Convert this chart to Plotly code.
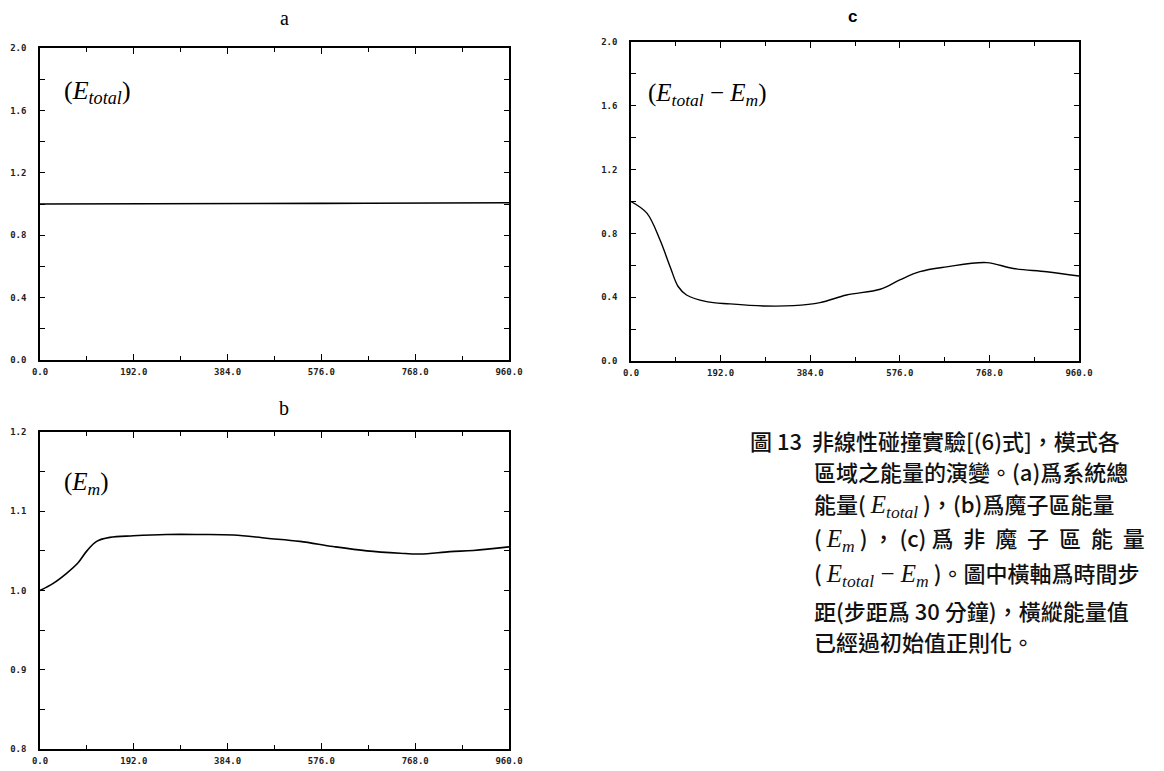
import plotly.graph_objects as go

W, H = 1164, 771

# ---------------- data ----------------
# panel a: total energy (normalised)
a_step = [0, 96, 192, 288, 384, 480, 576, 672, 768, 864, 960]
a_energy = [1.0, 1.0, 1.0, 1.001, 1.002, 1.003, 1.004, 1.005, 1.006, 1.007, 1.008]

# panel b: E_m
b_step = [0, 27, 55, 78, 96, 116, 143, 191, 259, 328, 396, 464, 532, 600, 669, 737, 778, 839, 887, 960]
b_energy = [1.0, 1.009, 1.022, 1.035, 1.050, 1.062, 1.067, 1.069, 1.0707, 1.0707, 1.070,
            1.066, 1.062, 1.0555, 1.050, 1.047, 1.046, 1.049, 1.0505, 1.055]

# panel c: E_total - E_m
c_step = [0, 34, 62, 84, 101, 119, 162, 212, 284, 348, 405, 462, 534, 576, 619, 676, 762, 819, 891, 960]
c_energy = [1.0, 0.927, 0.76, 0.59, 0.467, 0.414, 0.372, 0.358, 0.345, 0.347, 0.366,
            0.414, 0.45, 0.508, 0.56, 0.59, 0.617, 0.58, 0.56, 0.533]

x_ticks = [0, 192, 384, 576, 768, 960]

SERIF = '<span style="font-family:Liberation Serif;font-size:25px">'
caption_lines = [
    "圖 13  非線性碰撞實驗[(6)式]，模式各",
    "區域之能量的演變。(a)爲系統總",
    "能量( " + SERIF + "<i>E<sub>total</sub></i></span> )，(b)爲魔子區能量",
    "( " + SERIF + "<i>E<sub>m</sub></i></span> ) ， (c) 爲  非  魔  子  區  能  量",
    "( " + SERIF + "<i>E<sub>total</sub></i> − <i>E<sub>m</sub></i></span> )。圖中橫軸爲時間步",
    "距(步距爲 30 分鐘)，橫縱能量值",
    "已經過初始值正則化。",
]

# ---------------- helpers ----------------
def px(x):
    return x / W

def py(y):
    return 1 - y / H

tickfont = dict(family="DejaVu Sans Mono", size=9, color="#222", weight="bold")

fig = go.Figure()

fig.add_trace(go.Scatter(x=a_step, y=a_energy, mode="lines", line=dict(color="black", width=1.6),
                         xaxis="x", yaxis="y", showlegend=False))
fig.add_trace(go.Scatter(x=c_step, y=c_energy, mode="lines", line=dict(color="black", width=1.4, shape="spline"),
                         xaxis="x2", yaxis="y2", showlegend=False))
fig.add_trace(go.Scatter(x=b_step, y=b_energy, mode="lines", line=dict(color="black", width=1.6, shape="spline"),
                         xaxis="x3", yaxis="y3", showlegend=False))

def xaxis(domain, anchor):
    return dict(domain=domain, anchor=anchor, range=[0, 960], tickvals=x_ticks, tickformat=".1f",
                ticks="inside", ticklen=6, tickwidth=1.3, tickcolor="black",
                minor=dict(dtick=96, tick0=0, ticks="inside", ticklen=4, tickwidth=1.2, tickcolor="black", showgrid=False),
                showline=True, linecolor="black", linewidth=1.6, mirror="ticks", automargin=False,
                showgrid=False, zeroline=False, tickfont=tickfont, ticklabelstandoff=2, fixedrange=True)

def yaxis(domain, anchor, rng, dtick, mdtick):
    return dict(domain=domain, anchor=anchor, range=rng, dtick=dtick, tick0=rng[0], tickformat=".1f",
                ticks="inside", ticklen=5, tickwidth=1.3, tickcolor="black",
                minor=dict(dtick=mdtick, tick0=rng[0], ticks="inside", ticklen=5, tickwidth=1.2, tickcolor="black", showgrid=False),
                showline=True, linecolor="black", linewidth=1.6, mirror="ticks", automargin=False,
                showgrid=False, zeroline=False, tickfont=tickfont, ticklabelstandoff=10, fixedrange=True)

fig.update_layout(
    width=W, height=H,
    margin=dict(l=0, r=0, t=0, b=0, autoexpand=False),
    paper_bgcolor="white", plot_bgcolor="white",
    showlegend=False,
    xaxis=xaxis([px(40), px(509)], "y"),
    yaxis=yaxis([py(360), py(48)], "x", [0, 2.0], 0.4, 0.2),
    xaxis2=xaxis([px(631), px(1079)], "y2"),
    yaxis2=yaxis([py(361), py(42)], "x2", [0, 2.0], 0.4, 0.2),
    xaxis3=xaxis([px(40), px(509)], "y3"),
    yaxis3=yaxis([py(749), py(432)], "x3", [0.8, 1.2], 0.1, 0.05),
)

ann = []
serif = "Liberation Serif"
ann.append(dict(x=px(284), y=py(18), text="a", font=dict(family=serif, size=20, color="black")))
ann.append(dict(x=px(853), y=py(16), text="c", font=dict(family="Liberation Sans", size=17, color="black", weight="bold")))
ann.append(dict(x=px(284), y=py(408), text="b", font=dict(family=serif, size=20, color="black")))

ann.append(dict(x=px(62), y=py(92), xanchor="left", text="(<i>E<sub>total</sub></i>)",
                font=dict(family=serif, size=26, color="black")))
ann.append(dict(x=px(646), y=py(94), xanchor="left", text="(<i>E<sub>total</sub></i> − <i>E<sub>m</sub></i>)",
                font=dict(family=serif, size=25, color="black")))
ann.append(dict(x=px(62), y=py(483), xanchor="left", text="(<i>E<sub>m</sub></i>)",
                font=dict(family=serif, size=25, color="black")))

cap_y = [440, 471, 504, 538, 573, 610, 641]
for i, (line, yy) in enumerate(zip(caption_lines, cap_y)):
    x0 = 748 if i == 0 else 812
    ann.append(dict(x=px(x0), y=py(yy), xanchor="left", text=line,
                    font=dict(family="Noto Sans CJK TC", size=22, color="#111", weight=500)))

for a in ann:
    a.update(xref="paper", yref="paper", showarrow=False, yanchor="middle")
    if "xanchor" not in a:
        a["xanchor"] = "center"
fig.update_layout(annotations=ann)

fig.write_html("out.html", config={"displayModeBar": False},
               post_script="document.body.style.margin='0px';")
